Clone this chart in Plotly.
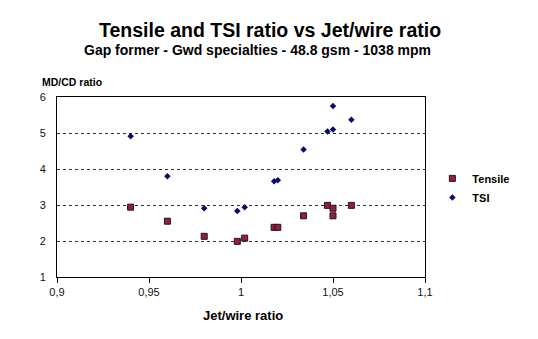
import plotly.graph_objects as go

jet_wire = [0.94, 0.96, 0.98, 0.998, 1.002, 1.018, 1.020, 1.034, 1.047, 1.05, 1.05, 1.06]
tensile = [2.94, 2.55, 2.13, 1.99, 2.08, 2.38, 2.38, 2.70, 2.99, 2.91, 2.70, 2.99]
tsi = [4.91, 3.80, 2.91, 2.83, 2.94, 3.66, 3.69, 4.54, 5.04, 5.10, 5.75, 5.37]

x_ticks = [0.9, 0.95, 1.0, 1.05, 1.1]
x_tick_labels = ["0,9", "0,95", "1", "1,05", "1,1"]
y_ticks = [1, 2, 3, 4, 5, 6]

FONT = "Liberation Sans, Arial, sans-serif"

fig = go.Figure()
fig.add_trace(go.Scatter(
    x=jet_wire, y=tensile, mode="markers", name="Tensile",
    marker=dict(symbol="square", size=6, color="#9B1B3B",
                line=dict(color="#1a1a1a", width=1)),
))
fig.add_trace(go.Scatter(
    x=jet_wire, y=tsi, mode="markers", name="TSI",
    marker=dict(symbol="diamond", size=5, color="#0A0A6E",
                line=dict(color="#0A0A6E", width=0)),
))

fig.update_layout(
    width=538, height=339,
    margin=dict(l=57, r=113, t=97, b=62, autoexpand=False),
    paper_bgcolor="white", plot_bgcolor="white",
    font=dict(family=FONT, color="black", size=11),
    showlegend=True,
    legend=dict(x=1.02, y=0.495, xanchor="left", yanchor="middle",
                font=dict(family=FONT, size=11, color="black", weight="bold"),
                bgcolor="rgba(0,0,0,0)", itemwidth=30, tracegroupgap=0),
    xaxis=dict(range=[0.9, 1.1], tickvals=x_ticks, ticktext=x_tick_labels,
               showline=True, linecolor="black", linewidth=1, mirror=True,
               ticks="outside", ticklen=5, tickcolor="black", showgrid=False,
               zeroline=False, tickfont=dict(size=11, color="#111")),
    yaxis=dict(range=[1, 6], tickvals=y_ticks,
               showline=True, linecolor="black", linewidth=1, mirror=True,
               ticks="", showgrid=True, gridcolor="#333", griddash="3px,3px",
               gridwidth=1, zeroline=False, ticklabelstandoff=8,
               tickfont=dict(size=11, color="#111")),
)

fig.add_annotation(text="<b>Tensile and TSI ratio vs Jet/wire ratio</b>",
                   xref="paper", yref="paper", x=(270 - 57) / 368, y=1,
                   showarrow=False, font=dict(size=19.5, family=FONT),
                   xanchor="center", yanchor="middle", yshift=97 - 30)
fig.add_annotation(text="<b>Gap former - Gwd specialties - 48.8 gsm - 1038 mpm</b>",
                   xref="paper", yref="paper", x=(257 - 57) / 368, y=1,
                   showarrow=False, font=dict(size=14, family=FONT),
                   xanchor="center", yanchor="middle", yshift=97 - 50)
fig.add_annotation(text="<b>MD/CD ratio</b>",
                   xref="paper", yref="paper", x=(40 - 57) / 368, y=1,
                   showarrow=False, font=dict(size=10.5, family=FONT),
                   xanchor="left", yanchor="middle", yshift=97 - 82)
fig.add_annotation(text="<b>Jet/wire ratio</b>",
                   xref="paper", yref="paper", x=(243 - 57) / 368, y=0,
                   showarrow=False, font=dict(size=13, family=FONT),
                   xanchor="center", yanchor="middle", yshift=277 - 315)

fig.write_html("out.html")
